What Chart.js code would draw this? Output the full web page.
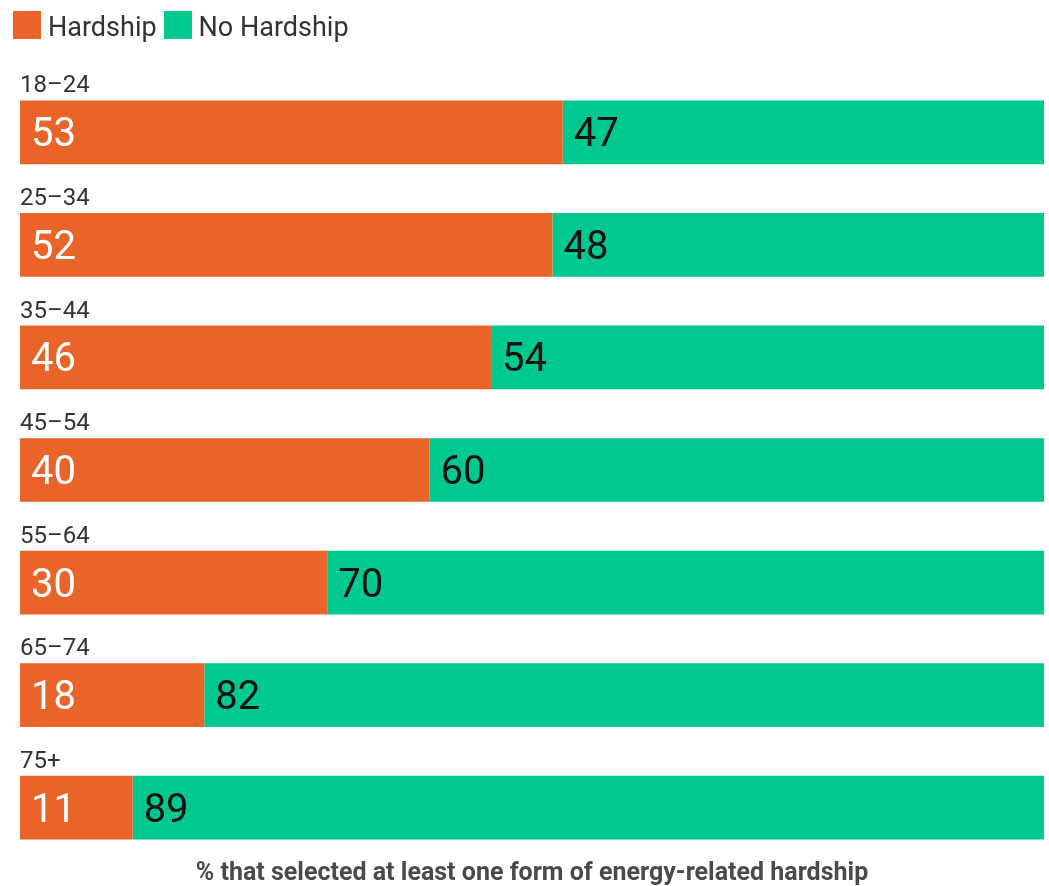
<!DOCTYPE html>
<html>
<head>
<meta charset="utf-8">
<script src="https://cdn.jsdelivr.net/npm/chart.js@4.4.1/dist/chart.umd.min.js"></script>
<style>
  html, body { margin: 0; padding: 0; background: #ffffff; }
  #wrap { position: relative; width: 1049px; height: 886px; }
  #legend {
    position: absolute; left: 13px; top: 11px; display: flex; align-items: center;
    font-family: Roboto, "Noto Sans", sans-serif; font-size: 27px; color: #333333;
  }
  #legend .item { display: flex; align-items: center; margin-right: 7px; }
  #legend .swatch { width: 28px; height: 28px; margin-right: 7px; }
  #legend .label { line-height: 28px; position: relative; top: 2px; }
  canvas { position: absolute; left: 0; top: 0; }
</style>
</head>
<body>
<div id="wrap">
  <canvas id="chart" width="1049" height="886"></canvas>
  <div id="legend"></div>
</div>
<script>
// Age groups and the share of respondents in each group
const categories = ['18–24', '25–34', '35–44', '45–54', '55–64', '65–74', '75+'];
const hardship = [53, 52, 46, 40, 30, 18, 11];
const noHardship = [47, 48, 54, 60, 70, 82, 89];
const seriesNames = ['Hardship', 'No Hardship'];
const seriesColors = ['#e96428', '#00c98f'];
const labelColors = ['#ffffff', '#111111'];
const axisTitle = '% that selected at least one form of energy-related hardship';

const FONT = 'Roboto, "Noto Sans", sans-serif';

// Legend built as plain HTML
const legendEl = document.getElementById('legend');
seriesNames.forEach((name, i) => {
  const item = document.createElement('div');
  item.className = 'item';
  const sw = document.createElement('div');
  sw.className = 'swatch';
  sw.style.background = seriesColors[i];
  const lb = document.createElement('span');
  lb.className = 'label';
  lb.textContent = name;
  item.appendChild(sw);
  item.appendChild(lb);
  legendEl.appendChild(item);
});

// Draws the group name above each bar, the value inside each segment
// and the caption under the plot
const barText = {
  id: 'barText',
  afterDatasetsDraw(chart) {
    const ctx = chart.ctx;
    ctx.save();
    const first = chart.getDatasetMeta(0);
    first.data.forEach((bar, i) => {
      const top = bar.y - bar.height / 2;
      ctx.font = '24px ' + FONT;
      ctx.fillStyle = '#333333';
      ctx.textAlign = 'left';
      ctx.textBaseline = 'alphabetic';
      ctx.fillText(categories[i], chart.chartArea.left, top - 8);
    });
    chart.data.datasets.forEach((ds, di) => {
      const meta = chart.getDatasetMeta(di);
      meta.data.forEach((bar, i) => {
        const left = Math.min(bar.x, bar.base);
        ctx.font = '40px ' + FONT;
        ctx.fillStyle = labelColors[di];
        ctx.textAlign = 'left';
        ctx.textBaseline = 'alphabetic';
        ctx.fillText(String(ds.data[i]), left + 11, bar.y + 14);
      });
    });
    ctx.font = 'bold 25px ' + FONT;
    ctx.fillStyle = '#4a4a4a';
    ctx.textAlign = 'center';
    ctx.textBaseline = 'alphabetic';
    const a = chart.chartArea;
    ctx.fillText(axisTitle, (a.left + a.right) / 2, 880);
    ctx.restore();
  }
};

new Chart(document.getElementById('chart'), {
  type: 'bar',
  data: {
    labels: categories,
    datasets: [
      { label: seriesNames[0], data: hardship, backgroundColor: seriesColors[0] },
      { label: seriesNames[1], data: noHardship, backgroundColor: seriesColors[1] }
    ]
  },
  options: {
    indexAxis: 'y',
    responsive: false,
    animation: false,
    devicePixelRatio: 1,
    layout: { padding: { left: 20, right: 5, top: 76, bottom: 22 } },
    datasets: { bar: { barPercentage: 0.566, categoryPercentage: 1, borderWidth: 0 } },
    scales: {
      x: { stacked: true, min: 0, max: 100, display: false },
      y: { stacked: true, display: false }
    },
    plugins: {
      legend: { display: false },
      tooltip: { enabled: false }
    }
  },
  plugins: [barText]
});
</script>
</body>
</html>
